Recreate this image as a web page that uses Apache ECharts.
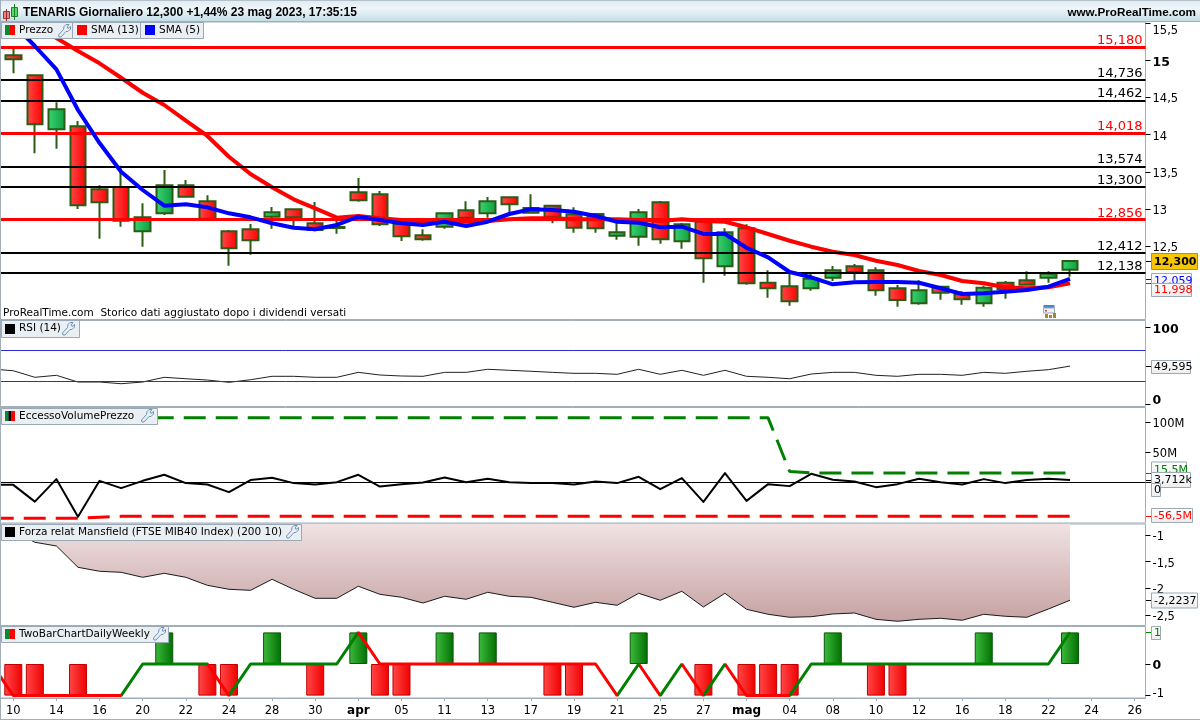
<!DOCTYPE html>
<html>
<head>
<meta charset="utf-8">
<title>TENARIS Giornaliero</title>
<script src="https://cdn.jsdelivr.net/npm/echarts@6/dist/echarts.min.js"></script>
<style>html,body{margin:0;padding:0;background:#fff;overflow:hidden}#c{width:1200px;height:720px}</style>
</head>
<body>
<div id="c"></div>
<script>
// ---- Data ----
const categories = ['09','10','13','14','15','16','17','20','21','22','23','24','27','28','29','30','31','apr','04','05','06','11','12','13','14','17','18','19','20','21','24','25','26','27','28','mag','03','04','05','08','09','10','11','12','15','16','17','18','19','22','23','24','25','26'];
// open, close, low, high
const ohlc = ['-',
[15.068,15.014,14.825,15.153],[14.799,14.139,13.749,14.803],[14.072,14.341,13.811,14.435],[14.112,13.049,12.999,14.183],[13.264,13.089,12.599,13.318],
[13.295,12.842,12.761,13.582],[12.699,12.887,12.492,13.076],[12.941,13.318,12.918,13.524],[13.318,13.165,13.165,13.389],[13.103,12.869,12.869,13.183],
[12.699,12.470,12.236,12.716],[12.726,12.578,12.384,12.797],[12.895,12.955,12.734,13.026],[12.995,12.887,12.761,12.995],[12.807,12.716,12.699,13.093],
[12.743,12.757,12.667,12.891],[13.224,13.116,13.097,13.416],[13.197,12.793,12.770,13.241],[12.797,12.632,12.568,12.851],[12.645,12.591,12.572,12.726],
[12.761,12.941,12.734,12.945],[12.982,12.882,12.860,13.103],[12.941,13.103,12.882,13.161],[13.157,13.062,12.941,13.157],[12.949,13.013,12.949,13.197],
[13.044,12.895,12.807,13.044],[12.928,12.747,12.680,13.022],[12.932,12.739,12.680,12.941],[12.640,12.685,12.586,12.851],[12.626,12.955,12.505,12.999],
[13.089,12.591,12.532,13.107],[12.564,12.793,12.465,12.811],[12.828,12.336,12.007,12.838],[12.228,12.685,12.101,12.739],[12.739,12.000,11.980,12.793],
[12.007,11.932,11.805,12.174],[11.959,11.757,11.698,12.142],[11.932,12.061,11.899,12.124],[12.074,12.174,12.030,12.232],[12.228,12.151,12.039,12.259],
[12.174,11.905,11.832,12.214],[11.932,11.774,11.684,11.976],[11.730,11.905,11.711,12.039],[11.953,11.873,11.778,11.963],[11.851,11.784,11.711,11.891],
[11.730,11.940,11.684,11.967],[12.007,11.918,11.792,12.030],[12.039,11.980,11.972,12.161],[12.074,12.128,12.007,12.161],[12.182,12.300,12.088,12.300]];
const sma13 = [null,15.610,15.462,15.301,15.126,14.960,14.766,14.564,14.399,14.188,13.982,13.703,13.470,13.291,13.130,13.008,12.882,12.905,12.874,12.851,12.828,12.838,12.828,12.838,12.860,12.874,12.874,12.860,12.860,12.860,12.851,12.838,12.860,12.838,12.828,12.753,12.663,12.572,12.492,12.424,12.380,12.303,12.245,12.165,12.111,12.030,12.000,11.945,11.932,11.945,11.998];
const sma5 = [null,15.489,15.193,14.879,14.332,13.887,13.501,13.255,13.044,13.062,13.022,12.941,12.887,12.807,12.747,12.726,12.784,12.895,12.851,12.807,12.784,12.828,12.770,12.828,12.932,12.995,12.986,12.963,12.905,12.828,12.815,12.753,12.761,12.663,12.663,12.478,12.349,12.151,12.080,11.986,12.013,12.017,12.017,12.007,11.932,11.855,11.864,11.886,11.909,11.953,12.059];
const levelsBlack = [14.736,14.462,13.574,13.3,12.412,12.138];
const levelsRed = [15.18,14.018,12.856];
const rsi = [45.8,43.5,34.9,37.5,28.7,28.7,26.5,28.7,34.9,33.0,31.3,28.3,31.7,36.2,36.2,34.9,34.9,41.4,37.9,36.6,36.2,41.4,41.4,45.4,44.1,42.8,41.4,40.1,40.1,38.8,45.4,38.8,44.1,37.5,44.1,36.2,34.9,33.0,39.2,41.4,41.4,37.5,36.2,38.8,38.8,37.5,41.4,40.1,42.8,44.9,49.595];
const rsiBands = [70,30];
const evp = [-4.2,-4.2,-32.0,5.3,-57.0,2.5,-9.7,2.5,12.5,-1.3,-3.7,-16.3,3.7,7.5,-1.3,-3.7,0.3,12.5,-7.0,-3.0,-0.3,8.0,0.3,5.8,0.3,-1.3,-1.3,-3.7,1.3,-1.3,9.2,-11.3,7.0,-32.5,15.3,-30.8,-3.0,-6.3,14.2,4.2,1.3,-8.0,-3.0,5.8,0.3,-3.7,5.3,-1.3,3.7,5.8,3.712];
const evpUpper = [107,107,107,107,107,107,107,107,107,107,107,107,107,107,107,107,107,107,107,107,107,107,107,107,107,107,107,107,107,107,107,107,107,107,107,107,107,18,15.5,15.5,15.5,15.5,15.5,15.5,15.5,15.5,15.5,15.5,15.5,15.5,15.5];
const evpLower = [-59.7,-59.7,-59.7,-59.7,-59.7,-58,-56.5,-56.5,-56.5,-56.5,-56.5,-56.5,-56.5,-56.5,-56.5,-56.5,-56.5,-56.5,-56.5,-56.5,-56.5,-56.5,-56.5,-56.5,-56.5,-56.5,-56.5,-56.5,-56.5,-56.5,-56.5,-56.5,-56.5,-56.5,-56.5,-56.5,-56.5,-56.5,-56.5,-56.5,-56.5,-56.5,-56.5,-56.5,-56.5,-56.5,-56.5,-56.5,-56.5,-56.5,-56.5];
const mansfield = [-0.81,-0.925,-1.137,-1.206,-1.606,-1.681,-1.700,-1.794,-1.719,-1.794,-1.944,-2.019,-2.038,-1.831,-2.019,-2.188,-2.188,-1.962,-2.113,-2.169,-2.276,-2.150,-2.206,-2.075,-2.150,-2.169,-2.263,-2.356,-2.263,-2.319,-2.094,-2.225,-2.056,-2.351,-2.094,-2.394,-2.488,-2.544,-2.533,-2.482,-2.463,-2.582,-2.619,-2.582,-2.563,-2.600,-2.488,-2.525,-2.544,-2.388,-2.2237];
const twoBarBars = [null,-1,-1,null,-1,null,null,null,1,null,-1,-1,null,1,null,-1,null,1,-1,-1,null,1,null,1,null,null,-1,-1,null,null,1,null,null,-1,null,-1,-1,-1,null,1,null,-1,-1,null,null,null,1,null,null,null,1];
const twoBarLine = [0,-1,-1,-1,-1,-1,-1,0,0,0,0,-1,0,0,0,0,0,1,0,0,0,0,0,0,0,0,0,0,0,-1,0,-1,0,-1,0,-1,-1,-1,0,0,0,0,0,0,0,0,0,0,0,0,1];
// from-index, to-index, colour of each run of the two-bar line
const twoBarRuns = [[0,6,'r'],[6,10,'g'],[10,11,'r'],[11,17,'g'],[17,29,'r'],[29,30,'g'],[30,31,'r'],[31,32,'g'],[32,33,'r'],[33,34,'g'],[34,37,'r'],[37,51,'g']];

// tick labels
const priceTicks = [12.5,13,13.5,14,14.5,15,15.5];
const rsiTicks = [0,100];
const evpTicks = [50,100];
const mansTicks = [-2.5,-2,-1.5,-1];
const twoTicks = [-1,0];

// value tags on the right-hand scale
const priceTags = [[12.059,'12,059'],[11.998,'11,998'],[12.3,'12,300']];
const rsiTags = [[49.595,'49,595']];
const evpTags = [[15.5,'15,5M'],[3.712,'3,712k'],[0,'0'],[-56.5,'-56,5M']];
const mansTags = [[-2.2237,'-2,2237']];
const twoTags = [[1,'1'],[1,'1']];

// ---- Styling and layout ----
const FONT = '"DejaVu Sans", sans-serif';
const HEAD = '"Liberation Sans", sans-serif';
const PANE = '#a3afb8';
const RED = '#ff0000', BLUE = '#0000ff', GREEN = '#008000';
const TAGBOX = {
  '12,059':{c:BLUE,top:-6,w:40,h:14}, '11,998':{c:RED,top:0,w:40,h:13},
  '12,300':{c:'#000',top:-8,w:46,h:16,fill:'#f7c600',bold:true},
  '49,595':{c:'#000',top:-6,w:39,h:13},
  '15,5M':{c:GREEN,top:-11.5,w:35,h:15}, '3,712k':{c:'#000',top:-8,w:39,h:15},
  '0':{c:'#000',top:1,w:9,h:13}, '-56,5M':{c:RED,top:-8,w:41,h:14},
  '-2,2237':{c:'#000',top:-7.5,w:46,h:15}, '1':{c:GREEN,top:-6,w:9,h:13}
};
const GL = -19.06, GW = 1164.56;
const panes = [
  {top:22,   bottom:319.5, min:11.512, max:15.516},
  {top:320.5,bottom:406.5, min:-3.4,   max:109.4},
  {top:407.5,bottom:523,   min:-67.5,  max:124.2},
  {top:524,  bottom:625.5, min:-2.698, max:-0.794},
  {top:626.5,bottom:698,   min:-1.076, max:1.187}
];
const grid = panes.map(p=>({left:GL,width:GW,top:p.top,height:p.bottom-p.top,show:true,backgroundColor:'#fff',borderColor:PANE,borderWidth:1,containLabel:false,outerBoundsMode:'none'}));
const tickFn = i => i%2===1;
const xAxis = panes.map((p,i)=>({
  type:'category',gridIndex:i,data:categories,boundaryGap:true,
  show:i===4,
  axisLine:{onZero:false,lineStyle:{color:PANE}},
  axisTick:{show:true,interval:tickFn,alignWithLabel:true,length:3,lineStyle:{color:PANE}},
  axisLabel:{show:true,interval:tickFn,margin:7,color:'#000',fontFamily:FONT,fontSize:11.5,
    formatter:v=>(v==='apr'||v==='mag')?'{b|'+v+'}':v,rich:{b:{fontWeight:'bold',fontSize:12,fontFamily:FONT,color:'#000'}}},
  splitLine:{show:false}
}));
const B = {fontWeight:'bold',fontSize:12.5,fontFamily:FONT,color:'#000'};
const yAx = (i,ticks,fmt) => ({
  type:'value',gridIndex:i,position:'right',min:panes[i].min,max:panes[i].max,scale:true,
  axisLine:{show:false},splitLine:{show:false},
  axisTick:{show:true,length:5,customValues:ticks,lineStyle:{color:'#000'}},
  axisLabel:{show:true,customValues:ticks,margin:7,color:'#000',fontFamily:FONT,fontSize:11.5,padding:[4,0,0,0],formatter:fmt,
    rich:{b:B,
      top15:{fontSize:11.5,fontFamily:FONT,color:'#000',padding:[12,0,0,0]},
      low0:Object.assign({},B,{padding:[0,0,10,0]}),
      lowM:{fontSize:11.5,fontFamily:FONT,color:'#000',padding:[0,0,8,0]}}}
});
const yAxis = [
  yAx(0,priceTicks,v=>v===15?'{b|15}':v===15.5?'{top15|15,5}':String(v).replace('.',',')),
  yAx(1,rsiTicks,v=>v===0?'{low0|0}':'{b|'+v+'}'),
  yAx(2,evpTicks,v=>v+'M'),
  yAx(3,mansTicks,v=>String(v).replace('.',',')),
  yAx(4,twoTicks,v=>v===0?'{b|0}':'{lowM|-1}')
];

const lg = (stops)=>new echarts.graphic.LinearGradient(0,0,1,0,[{offset:0,color:stops[0]},{offset:1,color:stops[1]}]);
const upFill = lg(['#3ad573','#0f9c3f']), downFill = lg(['#ff4a4a','#ff0000']);
const barGreen = lg(['#3dbb3d','#006f00']), barRed = lg(['#ff4848','#f00000']);

const levelLines = (vals,color,width) => ({
  type:'line',xAxisIndex:0,yAxisIndex:0,data:[],z:6,silent:true,
  markLine:{silent:true,symbol:'none',animation:false,precision:3,
    lineStyle:{color:color,width:width,type:'solid'},
    label:{position:'insideEndTop',distance:[3,0],color:color,fontFamily:FONT,fontSize:13,
      formatter:p=>p.value.toFixed(3).replace('.',',')},
    data:vals.map(v=>({yAxis:v}))}
});
const plain = (i,data,color,width,extra) => Object.assign({
  type:'line',xAxisIndex:i,yAxisIndex:i,data:data,showSymbol:false,symbol:'none',silent:true,connectNulls:false,
  lineStyle:{color:color,width:width,type:'solid',join:'round'},itemStyle:{color:color},z:4
},extra||{});
const tagSeries = (i,tags) => ({
  type:'custom',xAxisIndex:i,yAxisIndex:i,silent:true,z:20,
  encode:{x:0,y:1},
  data:tags.map(t=>[0,t[0],t[1]]),
  renderItem:(params,api)=>{
    const val=api.value(1), y=Math.round(api.coord([0,val])[1]), text=tags[params.dataIndex][1], s=TAGBOX[text];
    const bx=1151, by=y+s.top;
    return {type:'group',children:[
      {type:'line',shape:{x1:1146,y1:y+.5,x2:1151,y2:y+.5},style:{stroke:s.c,lineWidth:1}},
      {type:'rect',shape:{x:bx+.5,y:by+.5,width:s.w,height:s.h},
        style:{fill:s.fill||new echarts.graphic.LinearGradient(0,0,0,1,[{offset:0,color:'#ffffff'},{offset:1,color:'#ececec'}]),stroke:s.fill?'#b89400':'#9aa9b5',lineWidth:1}},
      {type:'text',x:bx+3,y:by+s.h/2+1,style:{text:text,fill:s.c,font:(s.bold?'bold 11px ':'11px ')+FONT,textVerticalAlign:'middle',textAlign:'left'}}
    ]};
  }
});

const series = [
  {type:'candlestick',xAxisIndex:0,yAxisIndex:0,data:ohlc,barWidth:16,z:2,silent:true,
   itemStyle:{color:upFill,color0:downFill,borderColor:'#2b5c14',borderColor0:'#2b5c14',borderWidth:2}},
  plain(0,sma13,RED,4),
  plain(0,sma5,BLUE,4,{z:5}),
  levelLines(levelsBlack,'#000000',2),
  levelLines(levelsRed,RED,3),
  tagSeries(0,priceTags),
  Object.assign(plain(1,rsi,'#222',1),{markLine:{silent:true,symbol:'none',animation:false,label:{show:false},
    lineStyle:{color:'#2a2ad8',width:1,type:'solid'},data:rsiBands.map(v=>({yAxis:v}))}}),
  tagSeries(1,rsiTags),
  plain(2,evpUpper,GREEN,3,{lineStyle:{color:GREEN,width:3,type:[22,10]}}),
  plain(2,evpLower,RED,3,{lineStyle:{color:RED,width:3,type:[22,10]}}),
  Object.assign(plain(2,evp,'#000',2),{markLine:{silent:true,symbol:'none',animation:false,label:{show:false},
    lineStyle:{color:'#000',width:1,type:'solid'},data:[{yAxis:0}]}}),
  tagSeries(2,evpTags),
  plain(3,mansfield,'#1a1a1a',1,{areaStyle:{origin:'end',opacity:1,
    color:new echarts.graphic.LinearGradient(0,524,0,622,[{offset:0,color:'#f0e2e3'},{offset:1,color:'#c6a1a1'}],true)}}),
  tagSeries(3,mansTags),
  {type:'bar',xAxisIndex:4,yAxisIndex:4,barWidth:18,z:2,silent:true,
   data:twoBarBars.map(v=>v===null?null:{value:v,itemStyle:v>0?{color:barGreen,borderColor:'#0a560a',borderWidth:1}:{color:barRed,borderColor:'#c00000',borderWidth:1}})},
  {type:'line',xAxisIndex:4,yAxisIndex:4,data:twoBarLine,showSymbol:false,symbol:'none',silent:true,z:4,id:'twoLine',lineStyle:{width:3}},
  tagSeries(4,twoTags)
];
const twoLineIndex = series.findIndex(s=>s.id==='twoLine');
const visualMap = [{show:false,type:'piecewise',seriesIndex:twoLineIndex,dimension:0,
  pieces:twoBarRuns.map(r=>({gte:r[0],lt:r[1],color:r[2]==='r'?RED:GREEN}))}];

// ---- Header, legends and small furniture ----
const WRENCH = [[8,0.5],[11,0.5],[9,3],[10,4.5],[12.5,2.5],[12.5,5],[10,7.5],[8,7.5],[3,13],[1,13],[0.5,11],[5.5,5.5],[6,2.5]];
const Z = 50;
const rect = (x,y,w,h,fill,stroke,z)=>({type:'rect',z:z||Z,silent:true,shape:{x,y,width:w,height:h},style:{fill:fill,stroke:stroke||null,lineWidth:stroke?1:0}});
const txt = (x,y,s,font,fill,align)=>({type:'text',z:Z+2,silent:true,x,y,style:{text:s,font:font,fill:fill||'#000',textAlign:align||'left',textVerticalAlign:'middle'}});
const swatch = (x,y,cols)=>cols.map((c,i)=>rect(x+i*10/cols.length,y,10/cols.length,10,c));
const legendBox = (x0,x1,y0,y1)=>rect(x0+.5,y0+.5,x1-x0,y1-y0,'#e9eff3','#9aa9b5');
const wrench = (x,y)=>({type:'polygon',z:Z+2,silent:true,x,y,shape:{points:WRENCH},style:{fill:'none',stroke:'#6d93b8',lineWidth:1}});
const LF = '10.5px '+FONT;
const graphic = {elements:[
  {type:'rect',z:Z,silent:true,shape:{x:0,y:0,width:1200,height:21},style:{fill:new echarts.graphic.LinearGradient(0,0,0,1,[{offset:0,color:'#dfeaf0'},{offset:.4,color:'#eef6fa'},{offset:1,color:'#c5dde6'}])}},
  rect(0,21,1200,1,PANE),
  rect(0,0,1200,1,'#b5c1c9'),
  rect(0,0,1,720,PANE),
  rect(0,719,1200,1,PANE),
  // header icon
  rect(3.5,11.5,6,7,'#f08080','#b03030'),rect(6,9,1,12,'#8a3030'),
  rect(11.5,7.5,6,9,'#50e060','#208030'),rect(14,4,1,16,'#208030'),
  txt(23,12.5,'TENARIS Giornaliero 12,300 +1,44% 23 mag 2023, 17:35:15','bold 12px '+HEAD),
  txt(1196,12.5,'www.ProRealTime.com','bold 11.7px '+HEAD,'#000','right'),
  // price legend
  legendBox(1,72,22,38),...swatch(5,25,['#0a8a30','#ff0000']),txt(19,30.5,'Prezzo',LF),wrench(58,24),
  legendBox(72,140,22,38),rect(77,25,10,10,RED),txt(91,30.5,'SMA (13)',LF),
  legendBox(140,203,22,38),rect(145,25,10,10,BLUE),txt(159,30.5,'SMA (5)',LF),
  txt(3,313,'ProRealTime.com  Storico dati aggiustato dopo i dividendi versati',LF),
  // calendar icon
  rect(1043.5,305,11,3,'#4a86c8'),rect(1043.5,308,11,5,'#eef2f6','#a0a8b0'),rect(1045,310,2,1.5,'#d04040'),
  rect(1045,314,3,4,'#a08a30'),rect(1049,315,3,3,'#a08a30'),rect(1053,313,3,5,'#a08a30'),
  // sub-pane legends
  legendBox(1,79,320,337),rect(5,324,10,10,'#000'),txt(19,328.5,'RSI (14)',LF),wrench(62,322),
  legendBox(1,157,408,424),...swatch(5,411,['#0a8a30','#000','#ff0000']),txt(19,416.5,'EccessoVolumePrezzo',LF),wrench(141,409),
  legendBox(1,301,524,540),rect(5,527,10,10,'#000'),txt(19,532.5,'Forza relat Mansfield (FTSE MIB40 Index) (200 10)',LF),wrench(286,525),
  legendBox(1,168,626,642),...swatch(5,629,['#0a8a30','#ff0000']),txt(19,634.5,'TwoBarChartDailyWeekly',LF),wrench(153,627)
]};

const chart = echarts.init(document.getElementById('c'),null,{renderer:'canvas'});
chart.setOption({animation:false,backgroundColor:'#fff',textStyle:{fontFamily:FONT},tooltip:{show:false},grid,xAxis,yAxis,series,visualMap,graphic});
</script>
</body>
</html>
